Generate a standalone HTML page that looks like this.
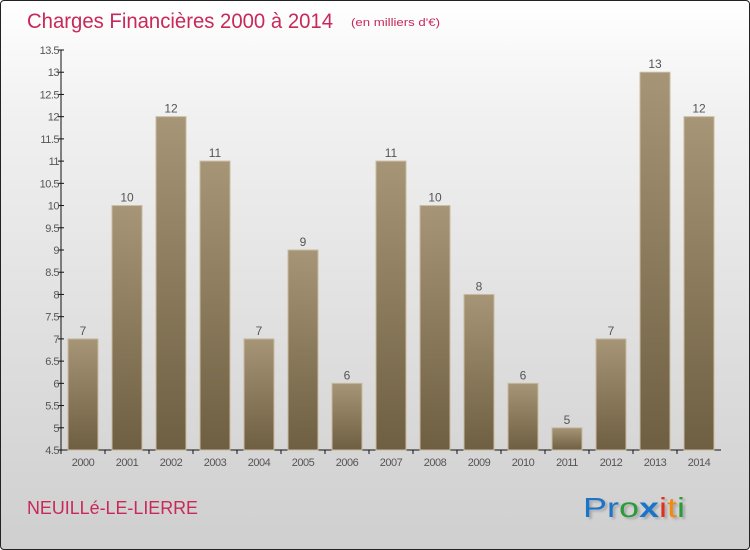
<!DOCTYPE html>
<html><head><meta charset="utf-8">
<style>
body{margin:0;width:750px;height:550px;overflow:hidden;font-family:"Liberation Sans",sans-serif}
#wrap{position:absolute;left:0;top:0;width:748px;height:548px;border:1px solid #222;border-radius:4px;background:linear-gradient(#ffffff,#f1f1f1 20%,#d9d9d9 75%,#cfcfcf)}
</style></head><body>
<div id="wrap">
<svg id="chart" width="750" height="550" style="position:absolute;left:-1px;top:-1px">
<defs><linearGradient id="bg" x1="0" y1="0" x2="0" y2="1"><stop offset="0" stop-color="#a69576"/><stop offset="1" stop-color="#6f5f42"/></linearGradient></defs>
<text x="27" y="28" font-size="21" fill="#c8285a" textLength="306" lengthAdjust="spacingAndGlyphs">Charges Financières 2000 à 2014</text>
<text x="351" y="26" font-size="11" fill="#c8285a" textLength="89" lengthAdjust="spacingAndGlyphs">(en milliers d'€)</text>
<text x="27" y="514" font-size="18" fill="#c8285a" textLength="171" lengthAdjust="spacingAndGlyphs">NEUILLé-LE-LIERRE</text>
<g font-size="28" style="text-shadow:2px 2px 2px #aaa">
<text x="583" y="517" textLength="102" lengthAdjust="spacingAndGlyphs"><tspan fill="#1a74c8">Pr</tspan><tspan fill="#2a9a3a">o</tspan><tspan fill="#1a74c8" font-weight="bold">x</tspan><tspan fill="#e03020">i</tspan><tspan fill="#f08a10">t</tspan><tspan fill="#2a9a3a">i</tspan></text>
</g>
<g id="axes"></g><g id="bars"></g>
</svg></div>
<script>
const categories=["2000","2001","2002","2003","2004","2005","2006","2007","2008","2009","2010","2011","2012","2013","2014"];
const values=[7,10,12,11,7,9,6,11,10,8,6,5,7,13,12];
const yTicks=[4.5,5,5.5,6,6.5,7,7.5,8,8.5,9,9.5,10,10.5,11,11.5,12,12.5,13,13.5];
const ns="http://www.w3.org/2000/svg";
const x0=61,slot=44,yMin=4.5,yMax=13.5,yTop=50,yBot=450;
const y=v=>yBot-(v-yMin)/(yMax-yMin)*(yBot-yTop);
const xc=i=>x0+slot*i+slot/2;
function mk(t,a,p){const e=document.createElementNS(ns,t);for(const k in a)e.setAttribute(k,a[k]);p.appendChild(e);return e;}
const ax=document.getElementById('axes'),bs=document.getElementById('bars');
const yl=mk('line',{x1:x0,y1:yTop,x2:x0,y2:yBot,stroke:'#111'},ax);


const xl=mk('line',{x1:x0,y1:yBot,x2:x0+slot*categories.length,y2:yBot,stroke:'#111'},ax);


yTicks.forEach(t=>{
 mk('line',{x1:x0-3,y1:y(t),x2:x0+3,y2:y(t),stroke:'#111'},ax);
 const tx=mk('text',{x:x0-2,y:y(t)+4,'font-size':11,'text-anchor':'end',fill:'#555','letter-spacing':'-0.5'},ax);
 tx.textContent=String(t);
 
 
});
categories.forEach((c,i)=>{
 mk('line',{x1:x0+slot*i,y1:yBot,x2:x0+slot*i,y2:yBot+4,stroke:'#111'},ax);
 const tx=mk('text',{x:xc(i),y:yBot+16,'font-size':11,'text-anchor':'middle',fill:'#555','letter-spacing':'-0.5'},ax);
 tx.textContent=c;
 
 
 const v=values[i];
 const r=mk('rect',{x:xc(i)-15,y:y(v),width:30,height:yBot-y(v),fill:'url(#bg)',stroke:'#c9bba0','stroke-width':1},bs);
 
 
 const lb=mk('text',{x:xc(i),y:y(v)-4,'font-size':12,'text-anchor':'middle',fill:'#555'},bs);
 lb.textContent=String(v);
 
 
});
</script>
</body></html>
